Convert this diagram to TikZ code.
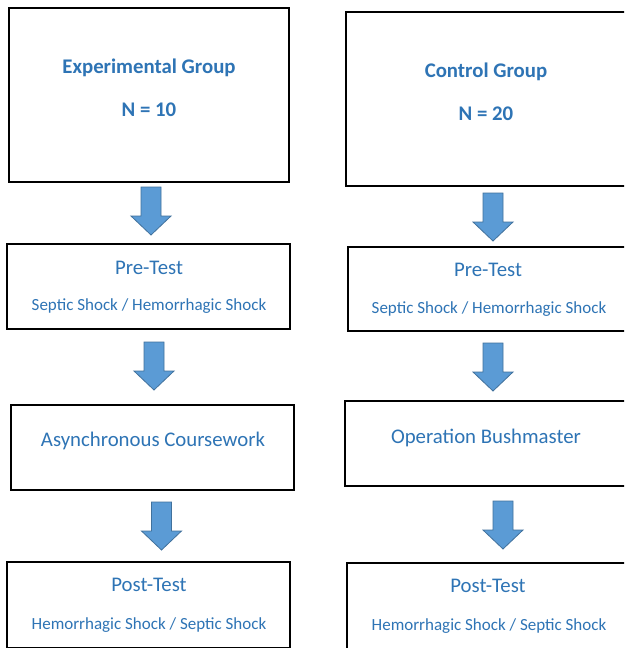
\documentclass[tikz,border=0pt]{standalone}
\usepackage{fontspec}
\setmainfont{Carlito}
\definecolor{txtblue}{HTML}{2E74B5}
\definecolor{arrfill}{HTML}{5B9BD5}
\definecolor{arredge}{HTML}{41719C}
\tikzset{
  box/.style={draw=black, line width=1.6pt, rectangle, inner sep=0pt},
  titletext/.style={text=txtblue, font=\fontsize{20.8}{24}\selectfont, inner sep=0pt, yshift=-1.5pt},
  headtext/.style={text=txtblue, font=\fontsize{20.8}{24}\selectfont\bfseries, inner sep=0pt, yshift=-1.5pt},
  subtext/.style={text=txtblue, font=\fontsize{17}{20}\selectfont, inner sep=0pt, yshift=-1.5pt},
  arrowbody/.style={fill=arrfill, draw=arredge, line width=0.8pt, line join=miter},
  blockarrow/.pic={
    \path[arrowbody] (-10,0) -- (10,0) -- (10,29) -- (20,29) -- (0,48) -- (-20,29) -- (-10,29) -- cycle;
  }
}
\begin{document}
\begin{tikzpicture}[x=1pt,y=-1pt]
\useasboundingbox (0,0) rectangle (624,648);
\clip (0,0) rectangle (624,648);
\fill[white] (0,0) rectangle (624,648);

% Left column boxes
\node[box, minimum width=280pt, minimum height=174pt] (e1) at (149,95) {};
\node[box, minimum width=283pt, minimum height=85pt] (e2) at (148.5,286.5) {};
\node[box, minimum width=283pt, minimum height=85pt] (e3) at (152.5,447.5) {};
\node[box, minimum width=283pt, minimum height=86pt] (e4) at (148.5,605) {};

% Right column boxes
\node[box, minimum width=282pt, minimum height=174pt] (c1) at (487,99) {};
\node[box, minimum width=280pt, minimum height=84pt] (c2) at (488,289) {};
\node[box, minimum width=283pt, minimum height=85pt] (c3) at (486.5,443.5) {};
\node[box, minimum width=281pt, minimum height=88pt] (c4) at (487.5,607) {};

% Left texts
\node[headtext] (e1a) at (149,66) {Experimental Group};
\node[headtext] (e1b) at (149,108) {N = 10};
\node[titletext] (e2a) at (149,266) {Pre-Test};
\node[subtext] (e2b) at (149,305) {Septic Shock / Hemorrhagic Shock};
\node[titletext] (e3a) at (153,439) {Asynchronous Coursework};
\node[titletext] (e4a) at (149,583) {Post-Test};
\node[subtext] (e4b) at (149,624) {Hemorrhagic Shock / Septic Shock};

% Right texts
\node[headtext] (c1a) at (486,70) {Control Group};
\node[headtext] (c1b) at (486,112) {N = 20};
\node[titletext] (c2a) at (488,268) {Pre-Test};
\node[subtext] (c2b) at (489,308) {Septic Shock / Hemorrhagic Shock};
\node[titletext] (c3a) at (486,436) {Operation Bushmaster};
\node[titletext] (c4a) at (488,584) {Post-Test};
\node[subtext] (c4b) at (489,625) {Hemorrhagic Shock / Septic Shock};

% Block arrows
\coordinate (ea1) at (151,187);
\coordinate (ea2) at (154,342);
\coordinate (ea3) at (161.5,502);
\coordinate (ca1) at (493,193);
\coordinate (ca2) at (493,343);
\coordinate (ca3) at (503,501);
\pic at (ea1) {blockarrow};
\pic at (ea2) {blockarrow};
\pic at (ea3) {blockarrow};
\pic at (ca1) {blockarrow};
\pic at (ca2) {blockarrow};
\pic at (ca3) {blockarrow};
\end{tikzpicture}
\end{document}
